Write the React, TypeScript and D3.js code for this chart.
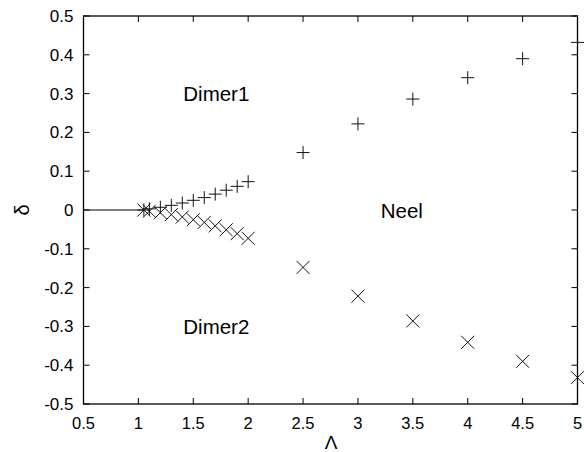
import React from "react";
import * as d3 from "d3";

const lambdaVals = [1.05, 1.1, 1.2, 1.3, 1.4, 1.5, 1.6, 1.7, 1.8, 1.9, 2.0, 2.5, 3.0, 3.5, 4.0, 4.5, 5.0];
const dimer1Vals = [0.0, 0.003, 0.007, 0.012, 0.018, 0.025, 0.032, 0.041, 0.051, 0.061, 0.073, 0.148, 0.222, 0.286, 0.341, 0.390, 0.432];
const dimer2Vals = [0.0, -0.003, -0.007, -0.012, -0.018, -0.025, -0.032, -0.041, -0.051, -0.061, -0.073, -0.148, -0.222, -0.286, -0.341, -0.390, -0.432];
const lineX = [0.5, 1.05];
const lineY = [0, 0];
const xTicks = [0.5, 1, 1.5, 2, 2.5, 3, 3.5, 4, 4.5, 5];
const yTicks = [-0.5, -0.4, -0.3, -0.2, -0.1, 0, 0.1, 0.2, 0.3, 0.4, 0.5];
const regionLabels = [
  { text: "Dimer1", x: 1.71, y: 0.3 },
  { text: "Dimer2", x: 1.71, y: -0.3 },
  { text: "Neel", x: 3.4, y: 0 },
];

const W = 584, H = 452;
const L = 83.5, R = 577.5, T = 16, B = 404;

export default function App() {
  const x = d3.scaleLinear().domain([0.5, 5]).range([L, R]);
  const y = d3.scaleLinear().domain([-0.5, 0.5]).range([B, T]);
  const font = "'Liberation Sans', Arial, sans-serif";
  const s = 6.5;
  const tl = 6;
  const line = d3.line<number>().x((d) => x(d)).y((_, i) => y(lineY[i]));
  return (
    <svg width={W} height={H} style={{ position: "absolute", left: 0, top: 0 }}>
      <rect width={W} height={H} fill="#fff" />
      {xTicks.map((t) => (
        <g key={"x" + t}>
          <line x1={x(t)} x2={x(t)} y1={B} y2={B - tl} stroke="#000" />
          <line x1={x(t)} x2={x(t)} y1={T} y2={T + tl} stroke="#000" />
          <text x={x(t)} y={428.5} textAnchor="middle" fontFamily={font} fontSize={16.5} fill="#000">
            {String(t)}
          </text>
        </g>
      ))}
      {yTicks.map((t) => (
        <g key={"y" + t}>
          <line x1={L} x2={L + tl} y1={y(t)} y2={y(t)} stroke="#000" />
          <line x1={R} x2={R - tl} y1={y(t)} y2={y(t)} stroke="#000" />
          <text x={73.5} y={y(t) + 6} textAnchor="end" fontFamily={font} fontSize={17} fill="#000">
            {String(Math.round(t * 10) / 10)}
          </text>
        </g>
      ))}
      <path d={line(lineX) || ""} stroke="#000" fill="none" strokeWidth={1} />
      {lambdaVals.map((l, i) => (
        <g key={"p" + i} stroke="#111" strokeWidth={1} fill="none">
          <line x1={x(l) - s} x2={x(l) + s} y1={y(dimer1Vals[i])} y2={y(dimer1Vals[i])} />
          <line x1={x(l)} x2={x(l)} y1={y(dimer1Vals[i]) - s} y2={y(dimer1Vals[i]) + s} />
        </g>
      ))}
      {lambdaVals.map((l, i) => (
        <g key={"c" + i} stroke="#111" strokeWidth={1} fill="none">
          <line x1={x(l) - s} x2={x(l) + s} y1={y(dimer2Vals[i]) - s} y2={y(dimer2Vals[i]) + s} />
          <line x1={x(l) - s} x2={x(l) + s} y1={y(dimer2Vals[i]) + s} y2={y(dimer2Vals[i]) - s} />
        </g>
      ))}
      <rect x={L} y={T} width={R - L} height={B - T} fill="none" stroke="#000" strokeWidth={1.3} />
      {regionLabels.map((r) => (
        <text key={r.text} x={x(r.x)} y={y(r.y) + 7.5} textAnchor="middle" fontFamily={font} fontSize={20.5} fill="#000">
          {r.text}
        </text>
      ))}
      <text x={331} y={449} textAnchor="middle" fontFamily={font} fontSize={19} fill="#000">Λ</text>
      <text transform={`translate(29,${y(0)}) rotate(-90)`} textAnchor="middle" fontFamily={font} fontSize={20} fill="#000">δ</text>
    </svg>
  );
}
